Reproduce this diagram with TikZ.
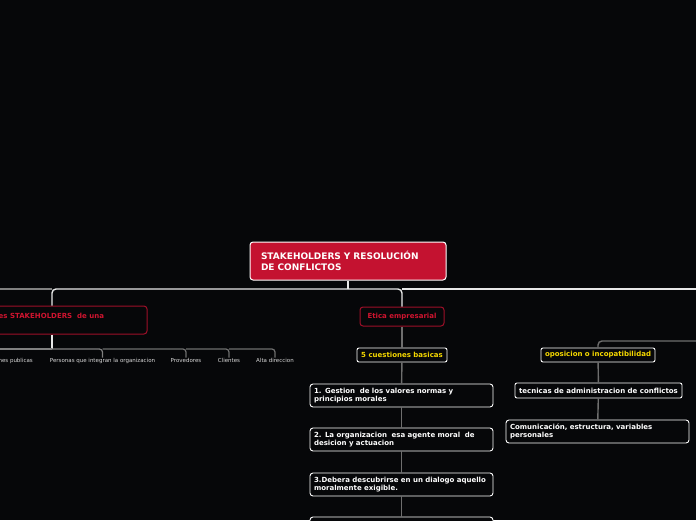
\documentclass[tikz,border=0pt]{standalone}
\usepackage{fontspec}
\setmainfont{DejaVu Sans}
\definecolor{bg}{HTML}{060709}
\definecolor{mred}{HTML}{C41230}
\definecolor{dred}{HTML}{9E0F28}
\definecolor{tred}{HTML}{D0142F}
\definecolor{yel}{HTML}{F5D800}
\definecolor{wline}{HTML}{E8E8E8}
\definecolor{gline}{HTML}{6E6E6E}
\definecolor{lbl}{HTML}{D8D8D8}
\begin{document}
\begin{tikzpicture}[x=1pt,y=-1pt,
  whiteline/.style={draw=wline,line width=1.4pt},
  grayline/.style={draw=gline,line width=1.4pt},
  mainbox/.style={draw=white,fill=mred,line width=1pt,rounded corners=3pt,
    text=white,font=\fontsize{9}{11.3}\selectfont\bfseries,align=left,
    inner xsep=11pt,inner ysep=0pt,text width=174pt,minimum height=38pt},
  redbox/.style={draw=dred,fill=bg,line width=1pt,rounded corners=3pt,
    text=tred,font=\fontsize{7}{8}\selectfont\bfseries,inner sep=0pt},
  yelbox/.style={draw=white,fill=bg,line width=0.9pt,rounded corners=2pt,
    text=yel,font=\fontsize{7}{8}\selectfont\bfseries,inner sep=0pt,minimum height=14pt},
  wbox/.style={draw=white,fill=bg,line width=0.9pt,rounded corners=3pt,
    text=white,font=\fontsize{7}{8.4}\selectfont\bfseries,align=left,
    inner xsep=4pt,inner ysep=0pt},
  wcbox/.style={draw=white,fill=bg,line width=0.9pt,rounded corners=2pt,
    text=white,font=\fontsize{7}{8}\selectfont\bfseries,inner sep=0pt,minimum height=15pt},
  lab/.style={text=lbl,font=\fontsize{5.5}{6.5}\selectfont,inner sep=1pt,anchor=north}
]
\fill[bg] (0,0) rectangle (696,520);
\useasboundingbox (0,0) rectangle (696,520);
\clip (0,0) rectangle (696,520);

% coordinates for off-picture ends
\coordinate (busL) at (0,289);
\coordinate (busR) at (697,289);
\coordinate (subL) at (0,349);
\coordinate (rR) at (697,341);

% nodes
\node[mainbox] (main) at (348,261) {STAKEHOLDERS Y RESOLUCIÓN\\DE CONFLICTOS};
\node[redbox,minimum width=190pt,minimum height=28pt] (stake) at (52,320) {};
\node[text=tred,font=\fontsize{7}{8}\selectfont\bfseries,inner sep=0pt,anchor=west] (staketxt) at (-1.5,316) {es STAKEHOLDERS\ \ de una};
\node[redbox,minimum width=84pt,minimum height=19pt] (etica) at (402,316.5) {Etica empresarial};
\node[yelbox,minimum width=90pt] (cinco) at (402,355) {5 cuestiones basicas};
\node[wbox,text width=175pt,minimum height=23pt] (n1) at (401.5,395.5) {1. Gestion\ \ de los valores normas y\\principios morales};
\node[wbox,text width=175pt,minimum height=23pt] (n2) at (401.5,439.5) {2. La organizacion\ \ esa agente moral\ \ de\\desicion y actuacion};
\node[wbox,text width=175pt,minimum height=23pt] (n3) at (401.5,484.5) {3.Debera descubrirse en un dialogo aquello\\moralmente exigible.};
\node[wbox,text width=175pt,minimum height=23pt] (n4) at (401.5,528.5) {};
\node[yelbox,minimum width=114pt] (opos) at (598,355) {oposicion o incopatibilidad};
\node[wcbox,minimum width=167pt] (tec) at (598.5,390.5) {tecnicas de administracion de conflictos};
\node[wbox,text width=175pt,minimum height=23pt] (com) at (597.5,431.5) {Comunicación, estructura, variables\\personales};

% stakeholder labels
\node[lab,anchor=north east] (pub) at (34,357.5) {nes publicas};
\node[lab] (pers) at (102.5,357.5) {Personas que integran la organizacion};
\node[lab] (prov) at (186,357.5) {Provedores};
\node[lab] (cli) at (229,357.5) {Clientes};
\node[lab] (alta) at (275,357.5) {Alta direccion};

% connectors
\draw[whiteline] (main.south) -- (main.south |- busL);
\draw[draw=gray,line width=1.4pt] (busL) -- (stake.north |- busL);
\draw[whiteline,rounded corners=4pt] (main.south |- busL) -| (stake.north);
\draw[whiteline,rounded corners=4pt] (main.south |- busL) -| (etica.north);
\draw[whiteline] (etica.north |- busL) -- (busR);
\draw[grayline,rounded corners=4pt] (rR) -| (opos.north);

\draw[whiteline] (stake.south) -- (stake.south |- subL);
\draw[draw=gray,line width=1.2pt] (subL) -- (stake.south |- subL);
\draw[draw=gray,line width=1.2pt,rounded corners=3pt] (stake.south |- subL) -| (pers.north);
\draw[grayline,line width=1.2pt,rounded corners=3pt] (pers.north |- subL) -| (prov.north);
\draw[grayline,line width=1.2pt,rounded corners=3pt] (prov.north |- subL) -| (cli.north);
\draw[grayline,line width=1.2pt,rounded corners=3pt] (cli.north |- subL) -| (alta.north);

\draw[grayline] (etica) -- (cinco);
\draw[grayline] (cinco) -- (n1);
\draw[grayline] (n1) -- (n2);
\draw[grayline] (n2) -- (n3);
\draw[grayline] (n3) -- (n4);
\draw[grayline] (opos) -- (tec);
\draw[grayline] (tec) -- (com);
\end{tikzpicture}
\end{document}
